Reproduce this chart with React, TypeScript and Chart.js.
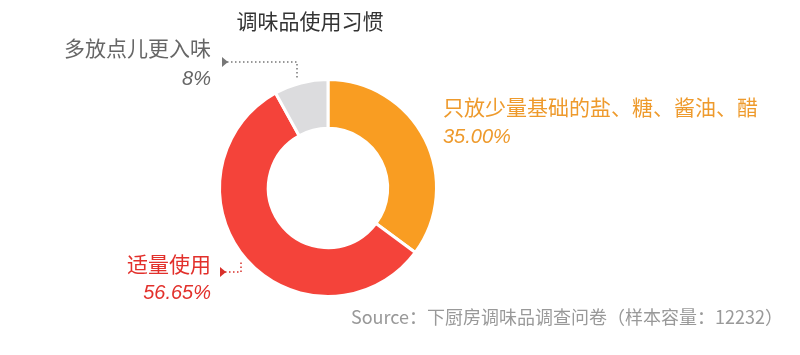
import React, { useEffect, useRef } from "react";
import { Chart, registerables } from "chart.js";

Chart.register(...registerables);

const title = "调味品使用习惯";
const categories = ["只放少量基础的盐、糖、酱油、醋", "适量使用", "多放点儿更入味"];
const values = [35.0, 56.65, 8];
const valueLabels = ["35.00%", "56.65%", "8%"];
const colors = ["#F99D22", "#F4433A", "#DCDCDE"];
const textColors = ["#EE9A2C", "#E2302B", "#666666"];
const source = "Source：下厨房调味品调查问卷（样本容量：12232）";

const CJK = '"Noto Sans CJK SC", "Noto Sans", sans-serif';

const labelPlugin = {
  id: "labelPlugin",
  afterDraw(chart: any) {
    const ctx = chart.ctx as CanvasRenderingContext2D;
    ctx.save();
    // title
    ctx.fillStyle = "#333333";
    ctx.font = `21px ${CJK}`;
    ctx.textAlign = "center";
    ctx.textBaseline = "middle";
    ctx.fillText(title, 310, 21);

    const meta = chart.getDatasetMeta(0);
    const arcs = meta.data;

    // orange label (index 0)
    ctx.textAlign = "left";
    ctx.fillStyle = textColors[0];
    ctx.font = `21px ${CJK}`;
    ctx.fillText(categories[0], 443, 107);
    ctx.font = `italic 20px "Liberation Sans", sans-serif`;
    ctx.fillText(valueLabels[0], 443, 137);

    // red label (index 1)
    ctx.textAlign = "right";
    ctx.fillStyle = textColors[1];
    ctx.font = `21px ${CJK}`;
    ctx.fillText(categories[1], 211, 264);
    ctx.font = `italic 20px "Liberation Sans", sans-serif`;
    ctx.fillText(valueLabels[1], 211, 293);

    // gray label (index 2)
    ctx.fillStyle = textColors[2];
    ctx.font = `21px ${CJK}`;
    ctx.fillText(categories[2], 211, 48);
    ctx.font = `italic 20px "Liberation Sans", sans-serif`;
    ctx.fillText(valueLabels[2], 211, 79);

    // connectors
    const drawConnector = (pts: number[][], color: string) => {
      ctx.strokeStyle = color;
      ctx.lineWidth = 1.5;
      ctx.setLineDash([1.5, 2.5]);
      ctx.beginPath();
      ctx.moveTo(pts[0][0], pts[0][1]);
      for (let i = 1; i < pts.length; i++) ctx.lineTo(pts[i][0], pts[i][1]);
      ctx.stroke();
      ctx.setLineDash([]);
      ctx.fillStyle = color;
      const [ax, ay] = pts[0];
      ctx.beginPath();
      ctx.moveTo(ax + 5, ay);
      ctx.lineTo(ax - 1, ay - 5);
      ctx.lineTo(ax - 1, ay + 5);
      ctx.closePath();
      ctx.fill();
    };
    if (arcs && arcs.length === 3) {
      const g = arcs[2];
      const gMid = (g.startAngle + g.endAngle) / 2;
      const gx = g.x + Math.cos(gMid) * g.outerRadius;
      const gy = g.y + Math.sin(gMid) * g.outerRadius;
      drawConnector([[223, 62], [Math.round(gx) - 4, 62], [Math.round(gx) - 4, gy - 3]], "#777777");
      drawConnector([[221, 272], [241, 272], [241, 262]], "#D8302B");
    }

    // source
    ctx.textAlign = "right";
    ctx.fillStyle = "#999999";
    ctx.font = `18px ${CJK}`;
    ctx.fillText(source, 783, 317);
    ctx.restore();
  },
};

export default function App() {
  const ref = useRef<HTMLCanvasElement>(null);
  useEffect(() => {
    document.body.style.margin = "0";
    const chart = new Chart(ref.current!, {
      type: "doughnut",
      data: {
        labels: categories,
        datasets: [
          {
            data: values,
            backgroundColor: colors,
            borderColor: "#ffffff",
            borderWidth: 3,
            hoverOffset: 0,
          },
        ],
      },
      options: {
        animation: false,
        responsive: false,
        cutout: "55%",
        layout: { padding: { left: 218, right: 362, top: 78, bottom: 57 } },
        plugins: {
          legend: { display: false },
          tooltip: { enabled: false },
          title: { display: false },
        },
      },
      plugins: [labelPlugin],
    });
    return () => chart.destroy();
  }, []);
  return (
    <div style={{ width: 800, height: 355, background: "#fff" }}>
      <canvas ref={ref} width={800} height={355} />
    </div>
  );
}
